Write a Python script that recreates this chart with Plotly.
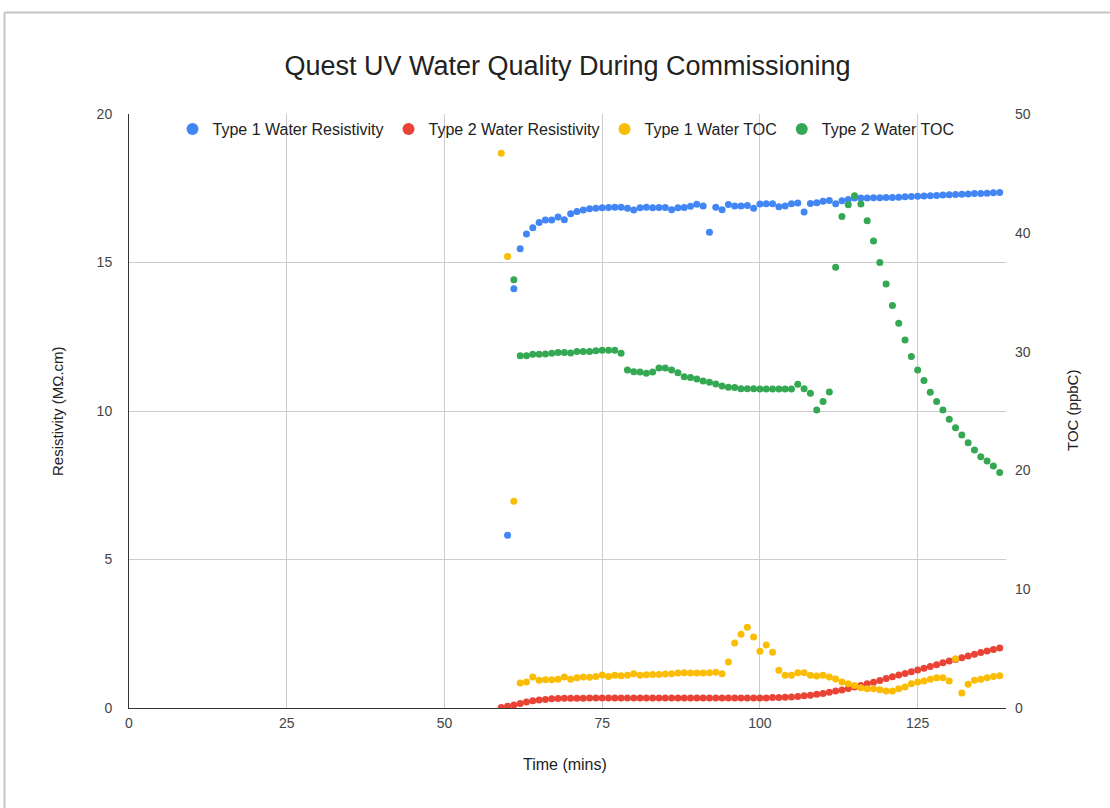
import plotly.graph_objects as go

# ---- data ----
time_mins = [
    59, 60, 61, 62, 63, 64, 65, 66, 67, 68,
    69, 70, 71, 72, 73, 74, 75, 76, 77, 78,
    79, 80, 81, 82, 83, 84, 85, 86, 87, 88,
    89, 90, 91, 92, 93, 94, 95, 96, 97, 98,
    99, 100, 101, 102, 103, 104, 105, 106, 107, 108,
    109, 110, 111, 112, 113, 114, 115, 116, 117, 118,
    119, 120, 121, 122, 123, 124, 125, 126, 127, 128,
    129, 130, 131, 132, 133, 134, 135, 136, 137, 138,
]

type1_resistivity = [
    None, 5.82, 14.12, 15.46, 15.96, 16.17, 16.35, 16.43, 16.43, 16.53,
    16.44, 16.64, 16.72, 16.77, 16.81, 16.83, 16.84, 16.85, 16.86, 16.86,
    16.83, 16.77, 16.84, 16.86, 16.84, 16.85, 16.85, 16.78, 16.84, 16.85,
    16.89, 16.96, 16.90, 16.02, 16.86, 16.78, 16.95, 16.90, 16.90, 16.92,
    16.83, 16.97, 16.98, 16.98, 16.88, 16.90, 16.98, 17.00, 16.70, 16.99,
    17.01, 17.06, 17.09, 16.98, 17.08, 17.12, 17.17, 17.17, 17.17, 17.18,
    17.18, 17.19, 17.19, 17.20, 17.21, 17.22, 17.23, 17.24, 17.25, 17.26,
    17.27, 17.28, 17.29, 17.30, 17.31, 17.32, 17.32, 17.33, 17.35, 17.36,
]

type2_resistivity = [
    0.02, 0.06, 0.10, 0.15, 0.20, 0.24, 0.27, 0.29, 0.31, 0.32,
    0.33, 0.33, 0.33, 0.33, 0.34, 0.34, 0.34, 0.34, 0.34, 0.34,
    0.34, 0.34, 0.34, 0.34, 0.34, 0.34, 0.34, 0.34, 0.34, 0.34,
    0.34, 0.34, 0.34, 0.34, 0.34, 0.34, 0.34, 0.34, 0.34, 0.34,
    0.34, 0.34, 0.34, 0.35, 0.35, 0.36, 0.37, 0.39, 0.41, 0.43,
    0.46, 0.49, 0.53, 0.57, 0.61, 0.66, 0.71, 0.76, 0.82, 0.87,
    0.93, 0.99, 1.05, 1.11, 1.16, 1.22, 1.28, 1.34, 1.40, 1.46,
    1.52, 1.58, 1.63, 1.69, 1.75, 1.81, 1.87, 1.92, 1.97, 2.02,
]

type1_toc = [
    46.7, 38.0, 17.4, 2.10, 2.18, 2.60, 2.33, 2.38, 2.38, 2.41,
    2.60, 2.41, 2.55, 2.60, 2.58, 2.66, 2.78, 2.66, 2.75, 2.72,
    2.75, 2.89, 2.75, 2.80, 2.83, 2.83, 2.86, 2.89, 2.94, 2.97,
    2.94, 2.94, 2.94, 2.97, 3.00, 2.89, 3.87, 5.47, 6.20, 6.80,
    5.98, 4.78, 5.30, 4.69, 3.17, 2.75, 2.75, 2.97, 2.97, 2.75,
    2.69, 2.75, 2.61, 2.44, 2.19, 2.05, 1.90, 1.71, 1.62, 1.62,
    1.54, 1.43, 1.43, 1.62, 1.76, 2.05, 2.19, 2.27, 2.41, 2.55,
    2.55, 2.27, 4.15, 1.26, 1.99, 2.33, 2.41, 2.55, 2.66, 2.72,
]

type2_toc = [
    None, None, 36.04, 29.66, 29.66, 29.78, 29.78, 29.80, 29.86, 29.92,
    29.92, 29.89, 30.00, 30.00, 30.00, 30.08, 30.12, 30.12, 30.12, 29.86,
    28.46, 28.31, 28.29, 28.18, 28.29, 28.62, 28.62, 28.46, 28.23, 27.89,
    27.81, 27.70, 27.53, 27.42, 27.28, 27.10, 27.00, 26.97, 26.88, 26.88,
    26.88, 26.85, 26.85, 26.85, 26.85, 26.85, 26.85, 27.25, 26.88, 26.49,
    25.08, 25.79, 26.60, 37.11, 41.38, 42.36, 43.12, 42.42, 41.01, 39.30,
    37.50, 35.70, 33.88, 32.39, 30.98, 29.58, 28.46, 27.56, 26.57, 25.79,
    25.08, 24.30, 23.59, 22.98, 22.33, 21.71, 21.15, 20.79, 20.36, 19.83,
]

x_ticks = [0, 25, 50, 75, 100, 125]
left_ticks = [0, 5, 10, 15, 20]
right_ticks = [0, 10, 20, 30, 40, 50]

FONT = "Arial, Liberation Sans, sans-serif"
MS = 7

fig = go.Figure()
fig.add_trace(go.Scatter(x=time_mins, y=type1_resistivity, mode="markers",
                         name="Type 1 Water Resistivity",
                         marker=dict(color="#4285F4", size=MS), yaxis="y"))
fig.add_trace(go.Scatter(x=time_mins, y=type2_resistivity, mode="markers",
                         name="Type 2 Water Resistivity",
                         marker=dict(color="#EA4335", size=MS), yaxis="y"))
fig.add_trace(go.Scatter(x=time_mins, y=type1_toc, mode="markers",
                         name="Type 1 Water TOC",
                         marker=dict(color="#FBBC04", size=MS), yaxis="y2"))
fig.add_trace(go.Scatter(x=time_mins, y=type2_toc, mode="markers",
                         name="Type 2 Water TOC",
                         marker=dict(color="#34A853", size=MS), yaxis="y2"))

L, R, T, B = 129, 104, 114, 100
W, H = 1110, 808
pw, ph = W - L - R, H - T - B


def px_x(px):
    return (px - L) / pw


def px_y(py):
    return (H - B - py) / ph


fig.update_layout(
    width=W, height=H,
    margin=dict(l=L, r=R, t=T, b=B),
    paper_bgcolor="white", plot_bgcolor="white",
    font=dict(family=FONT, color="#222222"),
    title=dict(text="Quest UV Water Quality During Commissioning",
               font=dict(size=27, color="#222222", family=FONT),
               x=0.5, xref="paper", xanchor="center",
               y=1 - 66 / H, yref="container", yanchor="middle"),
    showlegend=True,
    legend=dict(orientation="h", x=px_x(566), xanchor="center",
                y=px_y(129), yanchor="middle",
                bgcolor="rgba(0,0,0,0)", itemsizing="constant",
                font=dict(size=16, color="#222222", family=FONT)),
    xaxis=dict(range=[0, 139], tickvals=x_ticks, showgrid=True,
               gridcolor="#cccccc", gridwidth=1, zeroline=False,
               showline=True, linecolor="#333333", linewidth=1,
               ticks="", ticklabelstandoff=2,
               tickfont=dict(size=14, color="#444444")),
    yaxis=dict(range=[0, 20], tickvals=left_ticks, showgrid=True,
               gridcolor="#cccccc", gridwidth=1, zeroline=False,
               showline=True, linecolor="#333333", linewidth=1,
               ticks="", ticklabelstandoff=13,
               tickfont=dict(size=14, color="#444444")),
    yaxis2=dict(range=[0, 50], tickvals=right_ticks, overlaying="y",
                side="right", showgrid=False, zeroline=False,
                showline=False, ticks="", ticklabelstandoff=8,
                tickfont=dict(size=14, color="#444444")),
    annotations=[
        dict(text="Time (mins)", xref="paper", yref="paper",
             x=px_x(565), y=px_y(764), xanchor="center", yanchor="middle",
             showarrow=False, font=dict(size=16, color="#222222", family=FONT)),
        dict(text="Resistivity (MΩ.cm)", xref="paper", yref="paper",
             x=px_x(57), y=0.5, textangle=-90, xanchor="center",
             yanchor="middle", showarrow=False,
             font=dict(size=15, color="#222222", family=FONT)),
        dict(text="TOC (ppbC)", xref="paper", yref="paper",
             x=px_x(1072), y=0.5, textangle=-90, xanchor="center",
             yanchor="middle", showarrow=False,
             font=dict(size=15, color="#222222", family=FONT)),
    ],
    shapes=[
        dict(type="line", xref="paper", yref="paper",
             x0=px_x(4.5), x1=px_x(4.5), y0=px_y(H + 5), y1=px_y(12.5),
             line=dict(color="#c6c6c6", width=2)),
        dict(type="line", xref="paper", yref="paper",
             x0=px_x(4.5), x1=px_x(W + 5), y0=px_y(12.5), y1=px_y(12.5),
             line=dict(color="#c6c6c6", width=2)),
    ],
)

fig.write_html("out.html",
               config={"displayModeBar": False},
               post_script="document.body.style.margin='0px';"
                           "document.body.style.overflow='hidden';")
